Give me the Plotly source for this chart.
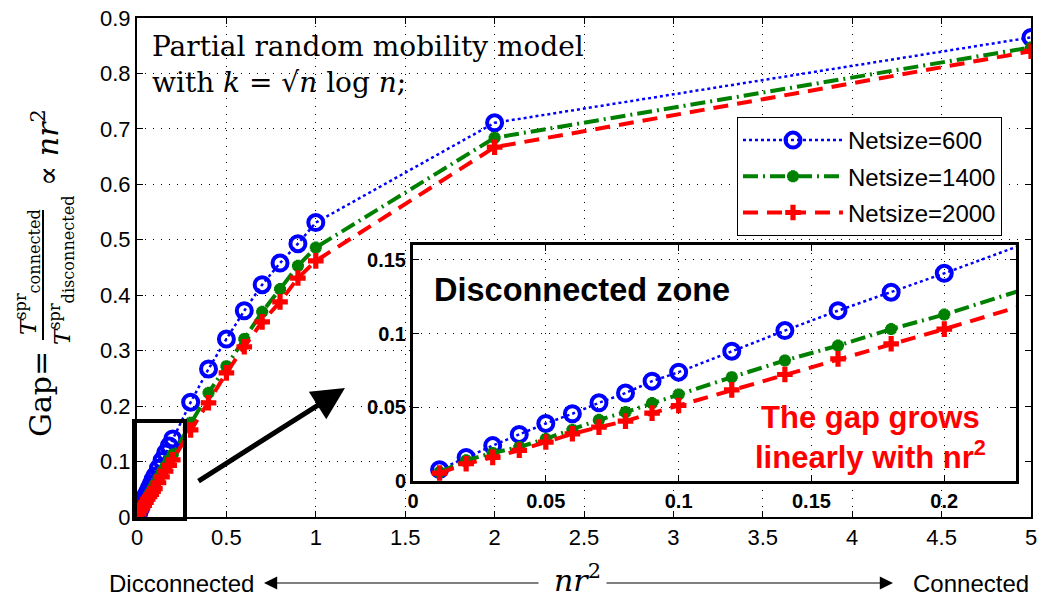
import plotly.graph_objects as go

# ---------------- data ----------------
x_vals = [0.01, 0.02, 0.03, 0.04, 0.05, 0.06, 0.07, 0.08, 0.09, 0.10,
          0.12, 0.14, 0.16, 0.18, 0.20,
          0.3, 0.4, 0.5, 0.6, 0.7, 0.8, 0.9, 1.0, 2.0, 5.0]
gap_600 = [0.0077, 0.016, 0.024, 0.0316, 0.039, 0.0456, 0.053, 0.0596, 0.0677, 0.0738,
           0.088, 0.102, 0.1155, 0.128, 0.1408,
           0.207, 0.267, 0.321, 0.372, 0.419, 0.458, 0.493, 0.531, 0.711, 0.865]
gap_1400 = [0.006, 0.014, 0.019, 0.023, 0.0286, 0.0347, 0.0415, 0.0467, 0.0528, 0.0587,
            0.0704, 0.0817, 0.0918, 0.103, 0.1128,
            0.170, 0.224, 0.272, 0.321, 0.370, 0.411, 0.453, 0.486, 0.684, 0.847]
gap_2000 = [0.0054, 0.0117, 0.016, 0.0208, 0.0264, 0.032, 0.0365, 0.0406, 0.046, 0.0512,
            0.0618, 0.0722, 0.0828, 0.093, 0.103,
            0.157, 0.206, 0.260, 0.307, 0.352, 0.388, 0.431, 0.462, 0.667, 0.840]
series_names = ["Netsize=600", "Netsize=1400", "Netsize=2000"]

main_xticks = [0, 0.5, 1, 1.5, 2, 2.5, 3, 3.5, 4, 4.5, 5]
main_xlabels = ["0", "0.5", "1", "1.5", "2", "2.5", "3", "3.5", "4", "4.5", "5"]
main_yticks = [0, 0.1, 0.2, 0.3, 0.4, 0.5, 0.6, 0.7, 0.8, 0.9]
main_ylabels = ["0", "0.1", "0.2", "0.3", "0.4", "0.5", "0.6", "0.7", "0.8", "0.9"]
inset_xticks = [0, 0.05, 0.1, 0.15, 0.2]
inset_xlabels = ["0", "0.05", "0.1", "0.15", "0.2"]
inset_yticks = [0, 0.05, 0.1, 0.15]
inset_ylabels = ["0", "0.05", "0.1", "0.15"]

# ---------------- layout geometry (page pixels) ----------------
W, H = 1037, 602
L, R, T, B = 137, 1031, 18, 517   # plot area in page pixels


def px(x):
    return (x - L) / (R - L)


def py(y):
    return (B - y) / (B - T)


styles = [
    dict(color="rgb(0,0,255)", dash="dot", width=2.5,
         marker=dict(symbol="circle-open", size=15, line=dict(width=4, color="rgb(0,0,255)"))),
    dict(color="rgb(0,128,0)", dash="15px,5px,2px,5px", width=4,
         marker=dict(symbol="asterisk-open", size=10, line=dict(width=4, color="rgb(0,128,0)"))),
    dict(color="rgb(255,0,0)", dash="15px,9px", width=4,
         marker=dict(symbol="cross", size=13, color="rgb(255,0,0)", line=dict(width=0))),
]
series = [gap_600, gap_1400, gap_2000]

fig = go.Figure()
for name, ys, st in zip(series_names, series, styles):
    fig.add_trace(go.Scatter(
        x=x_vals, y=ys, name=name, mode="lines+markers",
        line=dict(color=st["color"], dash=st["dash"], width=st["width"]),
        marker=st["marker"], xaxis="x", yaxis="y", legendgroup=name,
    ))
for name, ys, st in zip(series_names, series, styles):
    fig.add_trace(go.Scatter(
        x=x_vals, y=ys, name=name, mode="lines+markers", showlegend=False,
        line=dict(color=st["color"], dash=st["dash"], width=st["width"]),
        marker=st["marker"], xaxis="x2", yaxis="y2", cliponaxis=True,
    ))

axis_common = dict(showgrid=True, gridcolor="black", griddash="1px,7px", gridwidth=1,
                   zeroline=False, showline=True, linecolor="black", mirror="ticks",
                   ticks="inside", tickcolor="black", ticklabeloverflow="allow")
bold_tick = dict(size=20, family="Liberation Sans, Arial, sans-serif", weight="bold")

fig.update_layout(
    width=W, height=H,
    margin=dict(l=L, r=W - R, t=T, b=H - B, autoexpand=False),
    paper_bgcolor="white", plot_bgcolor="white",
    font=dict(family="Liberation Sans, Arial, sans-serif", color="black"),
    xaxis=dict(domain=[0, 1], range=[0, 5], tickvals=main_xticks, ticktext=main_xlabels,
               tickfont=dict(size=22), ticklen=6, linewidth=2, **axis_common),
    yaxis=dict(domain=[0, 1], range=[0, 0.9], tickvals=main_yticks, ticktext=main_ylabels,
               tickfont=dict(size=22), ticklen=6, linewidth=2, **axis_common),
    xaxis2=dict(domain=[px(413), px(1016)], range=[0, 0.227], anchor="y2",
                tickvals=inset_xticks, ticktext=inset_xlabels, tickfont=bold_tick,
                ticklen=6, linewidth=3, **axis_common),
    yaxis2=dict(domain=[py(481), py(245)], range=[0, 0.16], anchor="x2",
                tickvals=inset_yticks, ticktext=inset_ylabels, tickfont=bold_tick,
                ticklen=6, linewidth=3, **axis_common),
    legend=dict(x=px(737), y=py(117), xanchor="left", yanchor="top",
                bgcolor="white", bordercolor="black", borderwidth=1,
                font=dict(size=24), itemwidth=100, tracegroupgap=2),
    showlegend=True,
)

serif = "DejaVu Serif, Liberation Serif, serif"
annotations = [
    dict(text="Partial random mobility model<br>with <i>k</i> = √<i>n</i> log <i>n</i>;",
         x=px(150), y=py(28), xanchor="left", yanchor="top", align="left",
         font=dict(family=serif, size=28), showarrow=False),
    dict(text="<b>Disconnected zone</b>", x=px(432), y=py(290), xanchor="left", yanchor="middle",
         font=dict(size=32.5), showarrow=False),
    dict(text="<b>The gap grows<br>linearly with nr<sup>2</sup></b>", x=px(870), y=py(437),
         xanchor="center", yanchor="middle", align="center",
         font=dict(size=31, color="rgb(255,0,0)"), showarrow=False),
    # y-axis title pieces
    dict(text="Gap=", textangle=-90, x=px(40), y=py(394), xanchor="center", yanchor="middle",
         font=dict(family=serif, size=30), showarrow=False),
    dict(text="<i>T</i><sup>spr</sup><sub>connected</sub>", textangle=-90, x=px(27), y=py(272),
         xanchor="center", yanchor="middle", font=dict(family=serif, size=23), showarrow=False),
    dict(text="<i>T</i><sup>spr</sup><sub>disconnected</sub>", textangle=-90, x=px(61), y=py(270),
         xanchor="center", yanchor="middle", font=dict(family=serif, size=23), showarrow=False),
    dict(text="∝ <i>nr</i><sup>2</sup>", textangle=-90, x=px(45), y=py(148),
         xanchor="center", yanchor="middle", font=dict(family=serif, size=30), showarrow=False),
    # x-axis title row
    dict(text="Dicconnected", x=px(256), y=py(583), xanchor="right", yanchor="middle",
         font=dict(size=24), showarrow=False),
    dict(text="Connected", x=px(1031), y=py(583), xanchor="right", yanchor="middle",
         font=dict(size=24), showarrow=False),
    dict(text="<i>nr</i><sup>2</sup>", x=px(577), y=py(578), xanchor="center", yanchor="middle",
         font=dict(family=serif, size=30), showarrow=False),
    dict(text="", x=px(264), y=py(583), ax=276, ay=0, axref="pixel", ayref="pixel",
         showarrow=True, arrowhead=2, arrowsize=2.2, arrowwidth=1.2, arrowcolor="black"),
    dict(text="", x=px(893), y=py(583), ax=-288, ay=0, axref="pixel", ayref="pixel",
         showarrow=True, arrowhead=2, arrowsize=2.2, arrowwidth=1.2, arrowcolor="black"),
    # big arrow pointing to inset
    dict(text="", x=px(345), y=py(388), ax=-148, ay=94, axref="pixel", ayref="pixel",
         showarrow=True, arrowhead=2, arrowsize=1.3, arrowwidth=5, arrowcolor="black"),
]
for a in annotations:
    a.setdefault("xref", "paper")
    a.setdefault("yref", "paper")
fig.update_layout(annotations=annotations)

fig.update_layout(shapes=[
    dict(type="line", xref="paper", yref="paper", x0=px(43), x1=px(43), y0=py(210), y1=py(340),
         line=dict(color="black", width=2)),
    dict(type="rect", xref="paper", yref="paper", x0=px(134), x1=px(185), y0=py(519), y1=py(421),
         line=dict(color="black", width=4)),
])

fig.write_html("out.html", config={"displayModeBar": False},
               post_script="document.body.style.margin='0';document.body.style.overflow='hidden';")
